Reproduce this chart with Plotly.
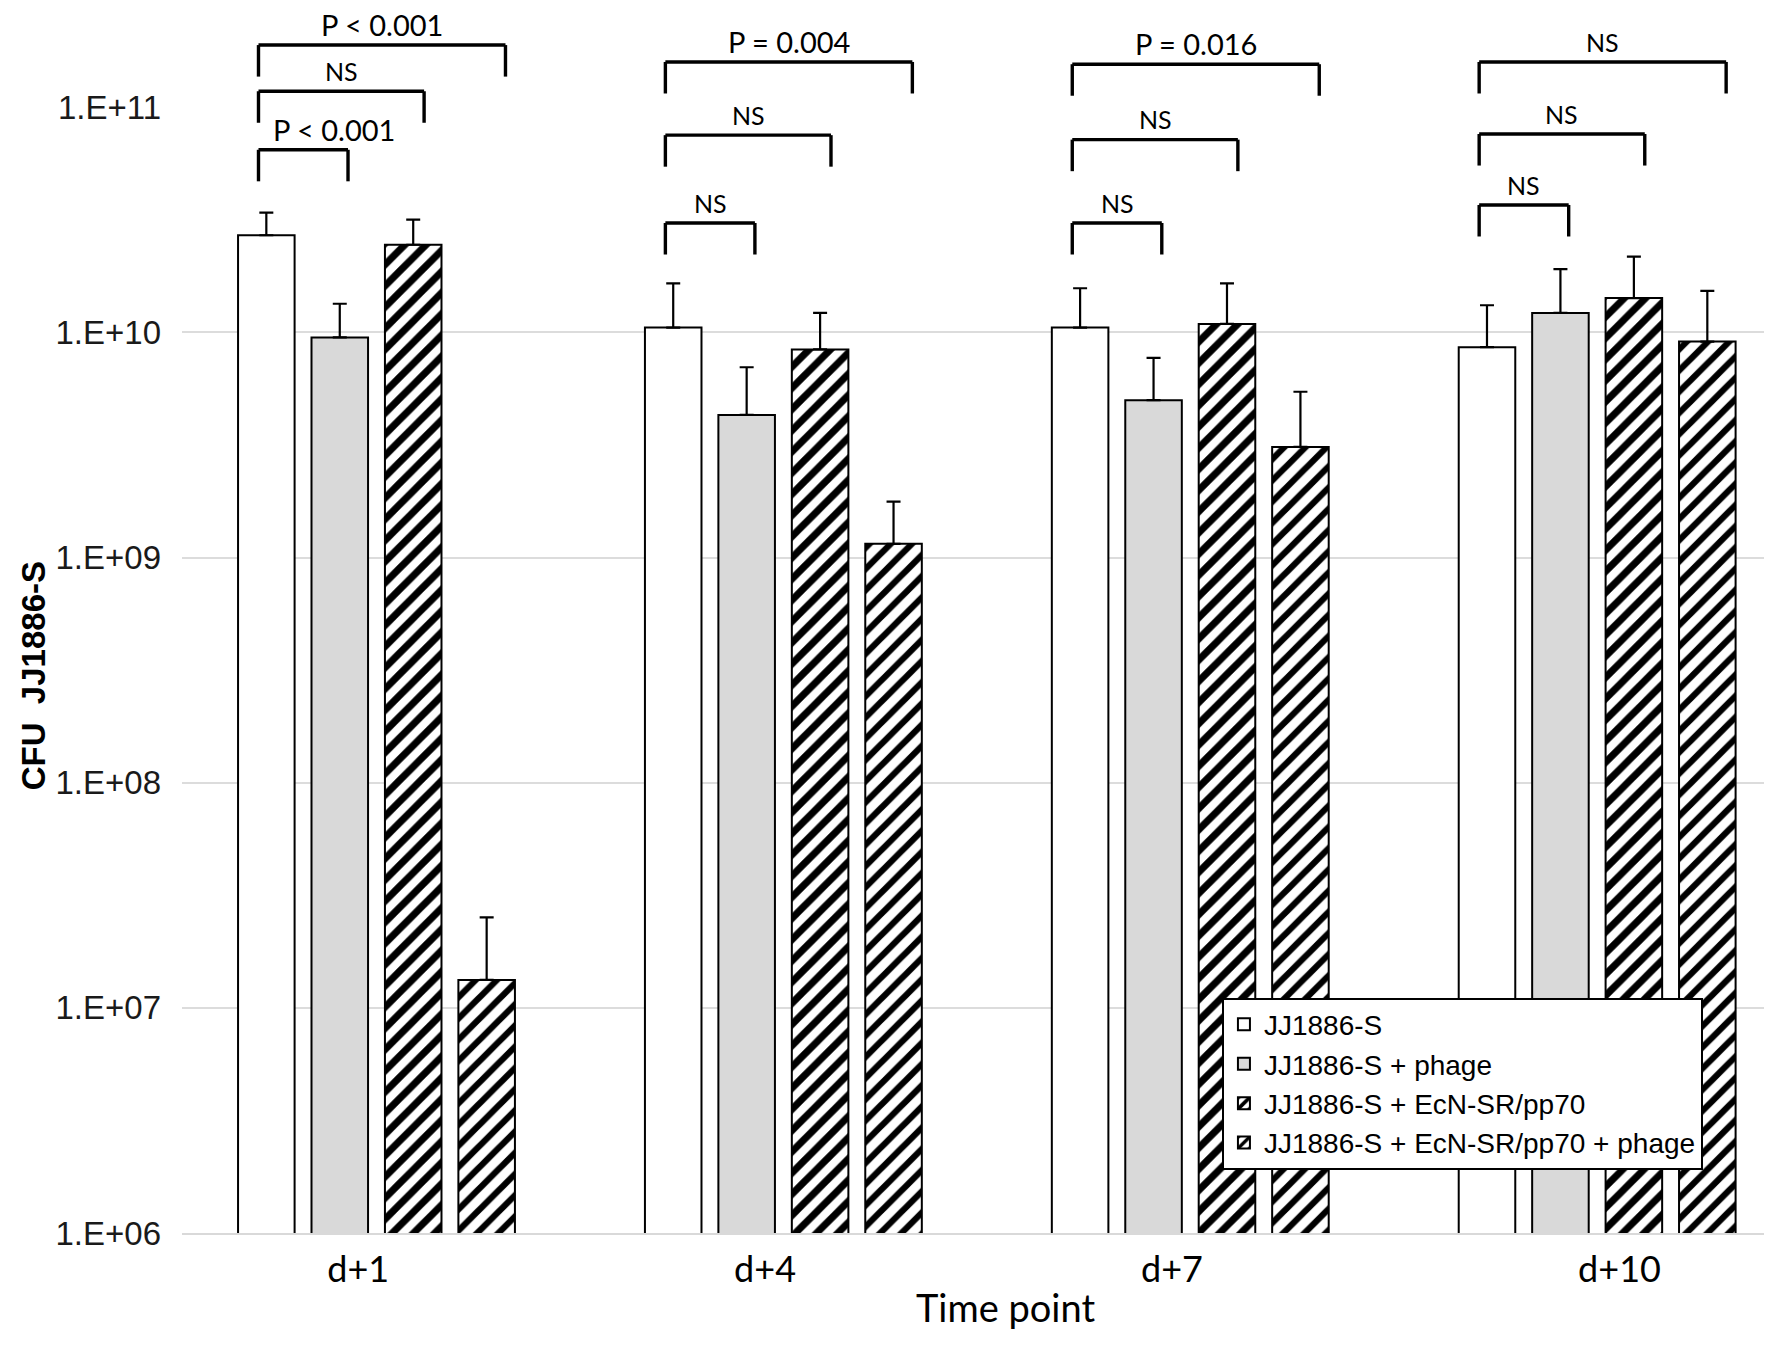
import plotly.graph_objects as go

# time points (x categories)
time_points = ["d+1", "d+4", "d+7", "d+10"]

# treatment groups
groups = [
    "JJ1886-S",
    "JJ1886-S + phage",
    "JJ1886-S + EcN-SR/pp70",
    "JJ1886-S + EcN-SR/pp70 + phage",
]

# mean CFU per group at each time point
cfu_s = [2.7e10, 1.05e10, 1.05e10, 8.6e9]
cfu_s_phage = [9.5e9, 4.3e9, 5.0e9, 1.22e10]
cfu_s_ecn = [2.45e10, 8.4e9, 1.09e10, 1.42e10]
cfu_s_ecn_phage = [1.33e7, 1.15e9, 3.1e9, 9.1e9]

# upper error bar lengths
err_s = [0.7e10, 0.6e10, 0.52e10, 4.6e9]
err_s_phage = [3.9e9, 2.7e9, 2.7e9, 6.9e9]
err_s_ecn = [0.72e10, 3.8e9, 0.56e10, 7.5e9]
err_s_ecn_phage = [1.19e7, 0.62e9, 2.35e9, 6.2e9]

# significance labels: (bar1 vs bar2, bar1 vs bar3, bar1 vs bar4) per time point
sig_labels = [
    ["P < 0.001", "NS", "P < 0.001"],
    ["NS", "NS", "P = 0.004"],
    ["NS", "NS", "P = 0.016"],
    ["NS", "NS", "NS"],
]

ytick_vals = [1e6, 1e7, 1e8, 1e9, 1e10, 1e11]
ytick_text = ["1.E+06", "1.E+07", "1.E+08", "1.E+09", "1.E+10", "1.E+11"]

xpos = list(range(len(time_points)))
# the category labels sit slightly off the group centres in the original
label_pos = [-0.045, 0.955, 1.955, 3.055]

styles = [
    dict(color="white", pattern=None),
    dict(color="#d9d9d9", pattern=None),
    dict(color="white", pattern=dict(shape="/", fgcolor="black", bgcolor="white", fgopacity=1,
                                     size=15, solidity=0.47)),
    dict(color="white", pattern=dict(shape="/", fgcolor="black", bgcolor="white", fgopacity=1,
                                     size=15, solidity=0.42)),
]

fig = go.Figure()
for name, vals, errs, st in zip(groups,
                                [cfu_s, cfu_s_phage, cfu_s_ecn, cfu_s_ecn_phage],
                                [err_s, err_s_phage, err_s_ecn, err_s_ecn_phage],
                                styles):
    marker = dict(color=st["color"], line=dict(color="black", width=2))
    if st["pattern"]:
        marker["pattern"] = st["pattern"]
    fig.add_trace(go.Bar(
        x=xpos, y=vals, name=name, marker=marker,
        error_y=dict(type="data", symmetric=False, array=errs,
                     arrayminus=[0] * len(errs), color="black",
                     thickness=2.2, width=7),
    ))

# brackets: left end and right ends relative to group centre, heights in paper units
left_off = -0.29
right_offs = [-0.07, 0.117, 0.317]
bracket_tops = [
    [0.962, 1.014, 1.055],
    [0.897, 0.975, 1.040],
    [0.897, 0.971, 1.038],
    [0.913, 0.976, 1.040],
]
leg_len = 0.028

shapes = []
annotations = []
for g, tops in enumerate(bracket_tops):
    for k, top in enumerate(tops):
        x0 = g + left_off
        x1 = g + right_offs[k]
        for (ax, ay, bx, by) in [(x0, top - leg_len, x0, top), (x0, top, x1, top), (x1, top, x1, top - leg_len)]:
            shapes.append(dict(type="line", xref="x", yref="paper", x0=ax, y0=ay, x1=bx, y1=by,
                               line=dict(color="black", width=3.4)))
        lab = sig_labels[g][k]
        big = lab.startswith("P")
        cx = (x0 + x1) / 2
        if g == 0 and k == 0:
            cx += 0.075
        annotations.append(dict(x=cx, y=top + 0.018, xref="x", yref="paper", text=lab,
                                showarrow=False, yanchor="middle",
                                font=dict(family="Lato", size=29 if big else 25, color="black")))

annotations.append(dict(x=-0.093, y=0.495, xref="paper", yref="paper", text="<b>CFU  JJ1886-S</b>",
                        textangle=-90, showarrow=False, xanchor="center", yanchor="middle",
                        font=dict(family="Liberation Sans", size=33, color="black")))
annotations.append(dict(x=0.516, y=-0.066, xref="paper", yref="paper", text="Time point",
                        showarrow=False, xanchor="center", yanchor="middle",
                        font=dict(family="Lato", size=38, color="black")))

fig.update_layout(
    width=1772, height=1346,
    margin=dict(l=174, r=3, t=99, b=121),
    plot_bgcolor="white", paper_bgcolor="white",
    barmode="group", bargap=0.278, bargroupgap=0.23,
    shapes=shapes, annotations=annotations,
    legend=dict(x=0.652, y=0.209, xanchor="left", yanchor="top",
                bgcolor="white", bordercolor="black", borderwidth=2,
                font=dict(family="Liberation Sans", size=28, color="black"),
                tracegroupgap=0, itemwidth=30),
)
fig.update_xaxes(range=[-0.478, 3.442], tickvals=label_pos, ticktext=time_points,
                 showgrid=False, zeroline=False, showline=True, linecolor="#d9d9d9", linewidth=2,
                 ticks="", ticklabelstandoff=4,
                 tickfont=dict(family="Lato", size=36, color="black"))
fig.update_yaxes(type="log", range=[6, 11.001], tickvals=ytick_vals, ticktext=ytick_text,
                 showgrid=True, gridcolor="#dcdcdc", gridwidth=2, zeroline=False,
                 ticks="", ticklabelstandoff=20,
                 tickfont=dict(family="Liberation Sans", size=33, color="#1a1a1a"))

fig.write_html("out.html")
